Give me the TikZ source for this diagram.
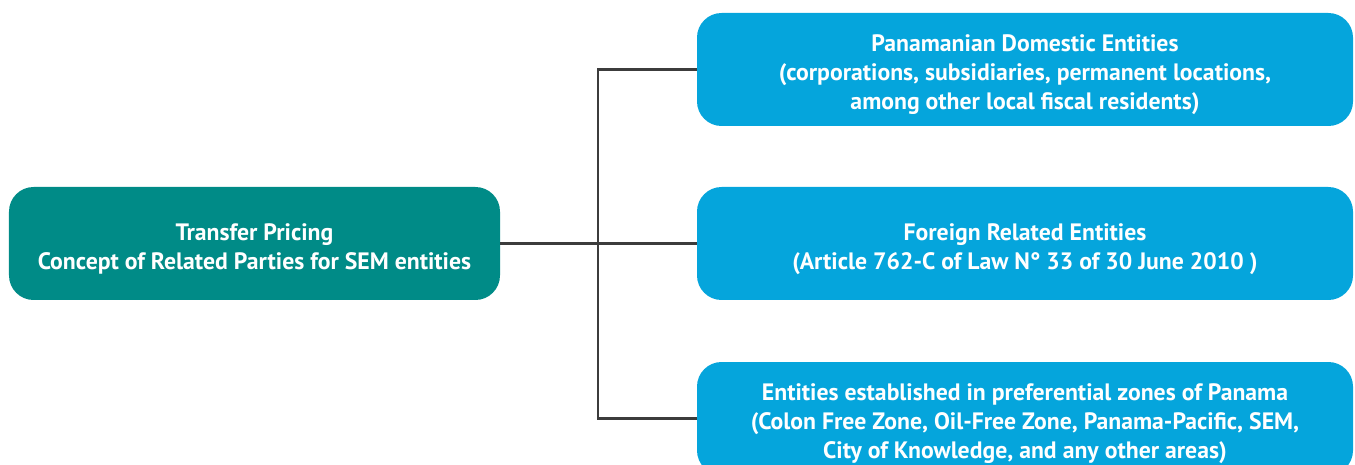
\documentclass[tikz,border=0pt]{standalone}
\usepackage{fontspec}
\setmainfont{PT Sans}
\definecolor{tealbox}{RGB}{0,139,135}
\definecolor{bluebox}{RGB}{5,165,220}
\definecolor{linegray}{RGB}{60,60,60}
\newcommand{\tstrut}{\rule{0pt}{15.5pt}}
\begin{document}
\begin{tikzpicture}
      \tikzstyle{STY1} = [rectangle, rounded corners=14pt, align=center, text=white, font=\bfseries\fontsize{13.5}{16.5}\selectfont]
      \tikzstyle{STY2} = [STY1, fill=tealbox, minimum height=2.26cm, minimum width=9.82cm]
      \tikzstyle{STY3} = [STY1, fill=bluebox, minimum height=2.26cm, minimum width=13.12cm]
      \tikzstyle{STY4} = [draw=linegray, line width=1.4pt]

      \useasboundingbox (0,0) rectangle (27.1,-9.3);
      \clip (0,0) rectangle (27.1,-9.3);

      %%%%% BOXES

      \node[STY2](tp) at (5.09, -4.87) {\tstrut Transfer Pricing\\Concept of Related Parties for SEM entities};

      \node[STY3](dom) at (20.5, -1.39) {\tstrut Panamanian Domestic Entities\\(corporations, subsidiaries, permanent locations,\\among other local fiscal residents)};
      \node[STY3](for) at (20.5, -4.87) {\tstrut Foreign Related Entities\\(Article 762-C of Law N° 33 of 30 June 2010 )};
      \node[STY3](zone) at (20.5, -8.37) {\tstrut Entities established in preferential zones of Panama\\(Colon Free Zone, Oil-Free Zone, Panama-Pacific, SEM,\\City of Knowledge, and any other areas)};

      \coordinate (br) at (11.96, -4.87);

      %%%%% EDGES
      \draw[STY4]  (tp) -- (for);
      \draw[STY4]  (br) |- (dom);
      \draw[STY4]  (br) |- (zone);
    \end{tikzpicture}
\end{document}
